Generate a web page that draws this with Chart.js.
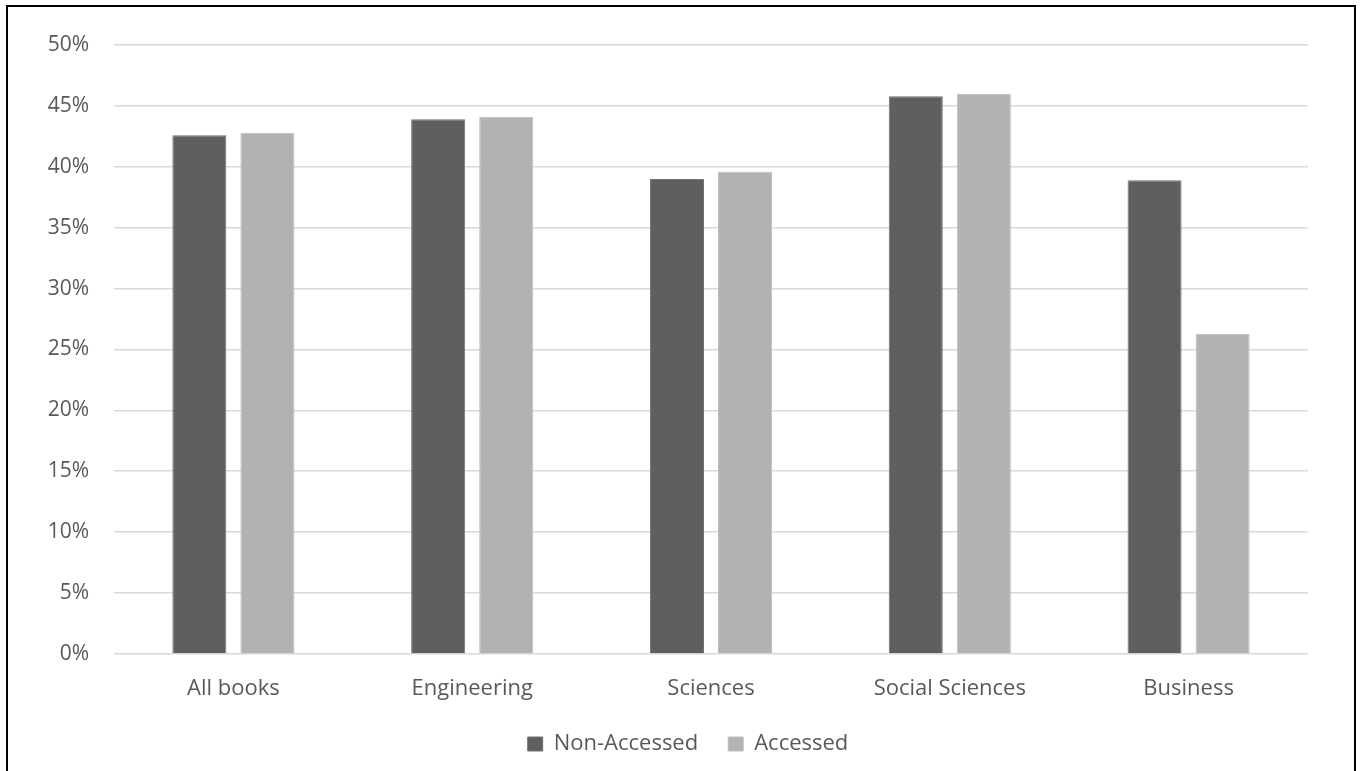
<!DOCTYPE html>
<html>
<head>
<meta charset="utf-8">
<script src="https://cdn.jsdelivr.net/npm/chart.js@4/dist/chart.umd.min.js"></script>
<style>
  html, body { margin: 0; padding: 0; background: #ffffff; }
  #wrap { position: relative; width: 1360px; height: 771px; overflow: hidden; }
  #frame { position: absolute; left: 6px; top: 5px; width: 1350px; height: 800px;
           border: 2px solid #000000; box-sizing: border-box; pointer-events: none; }
  canvas { position: absolute; left: 0; top: 0; }
</style>
</head>
<body>
<div id="wrap">
  <canvas id="chart" width="1360" height="771"></canvas>
  <div id="frame"></div>
</div>
<script>
// Share of books per subject group (percent)
const categories = ['All books', 'Engineering', 'Sciences', 'Social Sciences', 'Business'];
const nonAccessed = [42.6, 43.9, 39.0, 45.8, 38.9];
const accessed = [42.8, 44.1, 39.6, 46.0, 26.3];
const seriesNames = ['Non-Accessed', 'Accessed'];
const yTicksMax = 50;
const yTickStep = 5;

const textColor = '#595959';
const fontFamily = '"Open Sans", "Noto Sans", sans-serif';

// Nudge the legend so it sits a little right of the canvas centre
const legendShift = {
  id: 'legendShift',
  afterLayout(chart) {
    const lg = chart.legend;
    if (lg) { lg.left += 34; lg.right += 34; }
  }
};

new Chart(document.getElementById('chart'), {
  type: 'bar',
  data: {
    labels: categories,
    datasets: [
      {
        label: seriesNames[0],
        data: nonAccessed,
        backgroundColor: '#5f5f5f',
        borderColor: '#727272',
        borderWidth: 1
      },
      {
        label: seriesNames[1],
        data: accessed,
        backgroundColor: '#b2b2b2',
        borderColor: '#bdbdbd',
        borderWidth: 1
      }
    ]
  },
  plugins: [legendShift],
  options: {
    responsive: false,
    animation: false,
    categoryPercentage: 0.57,
    barPercentage: 0.794,
    layout: { padding: { left: 0, right: 52, top: 45, bottom: 6 } },
    plugins: {
      tooltip: { enabled: false },
      legend: {
        position: 'bottom',
        labels: {
          color: textColor,
          font: { family: fontFamily, size: 22 },
          boxWidth: 15,
          boxHeight: 14,
          padding: 30
        }
      }
    },
    scales: {
      x: {
        grid: { display: false, drawTicks: false },
        border: { display: false },
        ticks: {
          color: textColor,
          font: { family: fontFamily, size: 22 },
          padding: 22
        },
        afterFit: (scale) => { scale.height = 49; }
      },
      y: {
        min: 0,
        max: yTicksMax,
        grid: { color: '#d9d9d9', lineWidth: 1.6, drawTicks: false },
        border: { display: false },
        ticks: {
          stepSize: yTickStep,
          color: textColor,
          font: { family: fontFamily, size: 21 },
          padding: 25,
          callback: (v) => v + '%'
        },
        afterFit: (scale) => { scale.width = 114; }
      }
    }
  }
});
</script>
</body>
</html>
